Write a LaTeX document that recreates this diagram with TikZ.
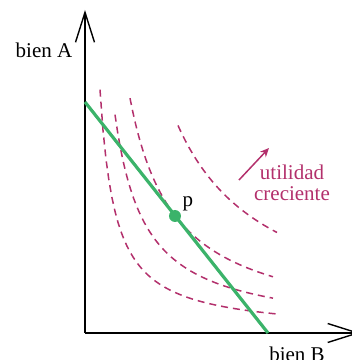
\documentclass[tikz,border=0pt]{standalone}
\usepackage{fontspec}
\setmainfont{Liberation Serif}
\usepackage{tikz}
\usetikzlibrary{arrows.meta,positioning}
\definecolor{curvepurple}{HTML}{B3306C}
\definecolor{budgetgreen}{HTML}{3BB36A}
\tikzset{
  axisline/.style={-{Straight Barb[length=15pt,width=9.5pt]},line width=0.7pt,draw=black},
  indiffcurve/.style={draw=curvepurple,line width=0.75pt,dash pattern=on 3.5pt off 2.5pt},
  budgetline/.style={draw=budgetgreen,line width=1.6pt},
  pointdot/.style={circle,fill=budgetgreen,inner sep=0pt,minimum size=6pt},
  axislabel/.style={font=\fontsize{10.5}{10.5}\selectfont,text=black,inner sep=0pt},
  growtharrow/.style={-{Stealth[length=4.5pt,width=4pt]},line width=0.75pt,draw=curvepurple},
}

\begin{document}
\begin{tikzpicture}[x=0.5pt,y=0.5pt]
  \useasboundingbox (-85,-27) rectangle (267,333);
  % axes
  \coordinate (o) at (0,0);
  \coordinate (ytip) at (0,323);
  \coordinate (xtip) at (275,0);
  \draw[axisline] (o) -- (ytip);
  \draw[axisline] (o) -- (xtip);
  \node[axislabel] (labelA) at (-41,283) {bien A};
  \node[axislabel] (labelB) at (212,-21) {bien B};
  % indifference curves
  \foreach \k/\a/\b in {36.5/15/192,65.5/30/188,105.7/45/188,193/93/192}{
    \draw[indiffcurve] plot[domain=\a:\b,samples=60] (\x,{\k/\x*100});
  }
  % budget line and optimum
  \coordinate (budgetA) at (0,231);
  \coordinate (budgetB) at (183,0);
  \draw[budgetline] (budgetA) -- (budgetB);
  \node[pointdot] (p) at (90,117) {};
  \node[axislabel] (plabel) at (103,129) {p};
  % direction of growth
  \coordinate (growS) at (154,153);
  \coordinate (growE) at (184,185);
  \draw[growtharrow] (growS) -- (growE);
  \node[axislabel,text=curvepurple,align=center] (growlabel) at (207,150) {utilidad\\creciente};
\end{tikzpicture}
\end{document}
